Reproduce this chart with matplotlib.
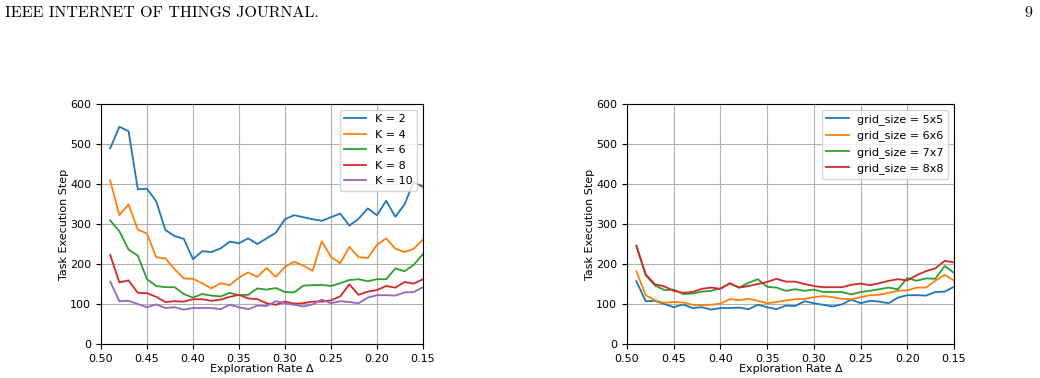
import numpy as np
import matplotlib
matplotlib.use("Agg")
from matplotlib import pyplot as plt

# exploration rate from 0.49 down to 0.15
delta = np.round(np.arange(0.49, 0.1499, -0.01), 2)

k2 = [489, 543, 532, 387, 388, 357, 285, 270, 263, 212, 232, 230, 239, 256, 252, 264, 250, 264,
      278, 312, 322, 317, 312, 308, 317, 326, 296, 313, 339, 322, 358, 318, 349, 406, 392]
k4 = [409, 322, 349, 286, 276, 217, 214, 187, 164, 163, 152, 139, 152, 147, 166, 179, 168, 190,
      168, 193, 206, 196, 183, 257, 218, 202, 243, 217, 215, 248, 264, 238, 230, 238, 261]
k6 = [309, 282, 236, 221, 162, 145, 142, 142, 125, 116, 125, 121, 119, 128, 122, 123, 139, 136,
      140, 130, 129, 146, 147, 148, 145, 152, 160, 162, 157, 162, 162, 189, 182, 198, 225]
k8 = [223, 154, 159, 128, 127, 118, 105, 107, 106, 112, 112, 108, 111, 118, 123, 114, 112, 102,
      98, 106, 101, 102, 106, 106, 109, 119, 149, 123, 131, 135, 145, 141, 155, 151, 162]
k10 = [156, 107, 108, 100, 92, 99, 90, 92, 86, 90, 90, 90, 87, 98, 92, 87, 96, 95,
       107, 102, 98, 94, 99, 111, 102, 107, 105, 102, 116, 122, 122, 121, 129, 130, 142]

g5 = [157, 107, 108, 100, 92, 99, 90, 92, 86, 90, 90, 91, 87, 98, 92, 87, 96, 95,
      107, 102, 98, 94, 99, 111, 102, 108, 106, 102, 116, 122, 122, 121, 130, 131, 143]
g6 = [182, 122, 109, 103, 105, 104, 98, 97, 98, 101, 112, 110, 113, 108, 102, 105, 109, 112,
      113, 117, 120, 117, 113, 112, 117, 122, 123, 128, 133, 134, 141, 141, 158, 173, 159]
g7 = [245, 172, 146, 135, 136, 125, 126, 131, 133, 139, 151, 141, 153, 162, 143, 141, 133, 137,
      133, 136, 130, 130, 130, 124, 130, 133, 137, 141, 137, 165, 158, 164, 163, 195, 178]
g8 = [246, 174, 149, 144, 133, 128, 130, 138, 141, 138, 152, 141, 145, 150, 155, 163, 156, 156,
      150, 145, 142, 142, 142, 148, 151, 147, 152, 158, 162, 159, 172, 182, 189, 208, 204]

k_labels = ["K = 2", "K = 4", "K = 6", "K = 8", "K = 10"]
g_labels = ["grid_size = 5x5", "grid_size = 6x6", "grid_size = 7x7", "grid_size = 8x8"]


def setup(ax):
    ax.set_xlim(0.50, 0.15)
    ax.set_ylim(0, 600)
    ax.set_xticks([0.50, 0.45, 0.40, 0.35, 0.30, 0.25, 0.20, 0.15])
    ax.set_yticks(range(0, 601, 100))
    ax.grid(True, color="#b0b0b0", linewidth=0.8)
    ax.set_axisbelow(True)
    ax.tick_params(labelsize=8)
    ax.set_xlabel("Exploration Rate Δ", fontsize=8, labelpad=0)
    ax.set_ylabel("Task Execution Step", fontsize=8, labelpad=1)
    ax.legend(loc="upper right", fontsize=8)


def main():
    fig = plt.figure(figsize=(10.4, 3.78), dpi=100)
    ax1 = fig.add_axes([0.0971, 0.0899, 0.3096, 0.635])
    ax2 = fig.add_axes([0.6029, 0.0899, 0.3144, 0.635])

    for y, lab in zip([k2, k4, k6, k8, k10], k_labels):
        ax1.plot(delta, y, label=lab, linewidth=1.3)
    setup(ax1)

    for y, lab in zip([g5, g6, g7, g8], g_labels):
        ax2.plot(delta, y, label=lab, linewidth=1.3)
    setup(ax2)

    fig.text(0.005, 0.965, "IEEE INTERNET OF THINGS JOURNAL.", family=["cmr10", "DejaVu Serif"],
             fontsize=11.5, va="center", ha="left")
    fig.text(0.993, 0.965, "9", family=["cmr10", "DejaVu Serif"], fontsize=11.5, va="center", ha="right")

    fig.savefig("out.png", dpi=100)


if __name__ == '__main__':
    main()
